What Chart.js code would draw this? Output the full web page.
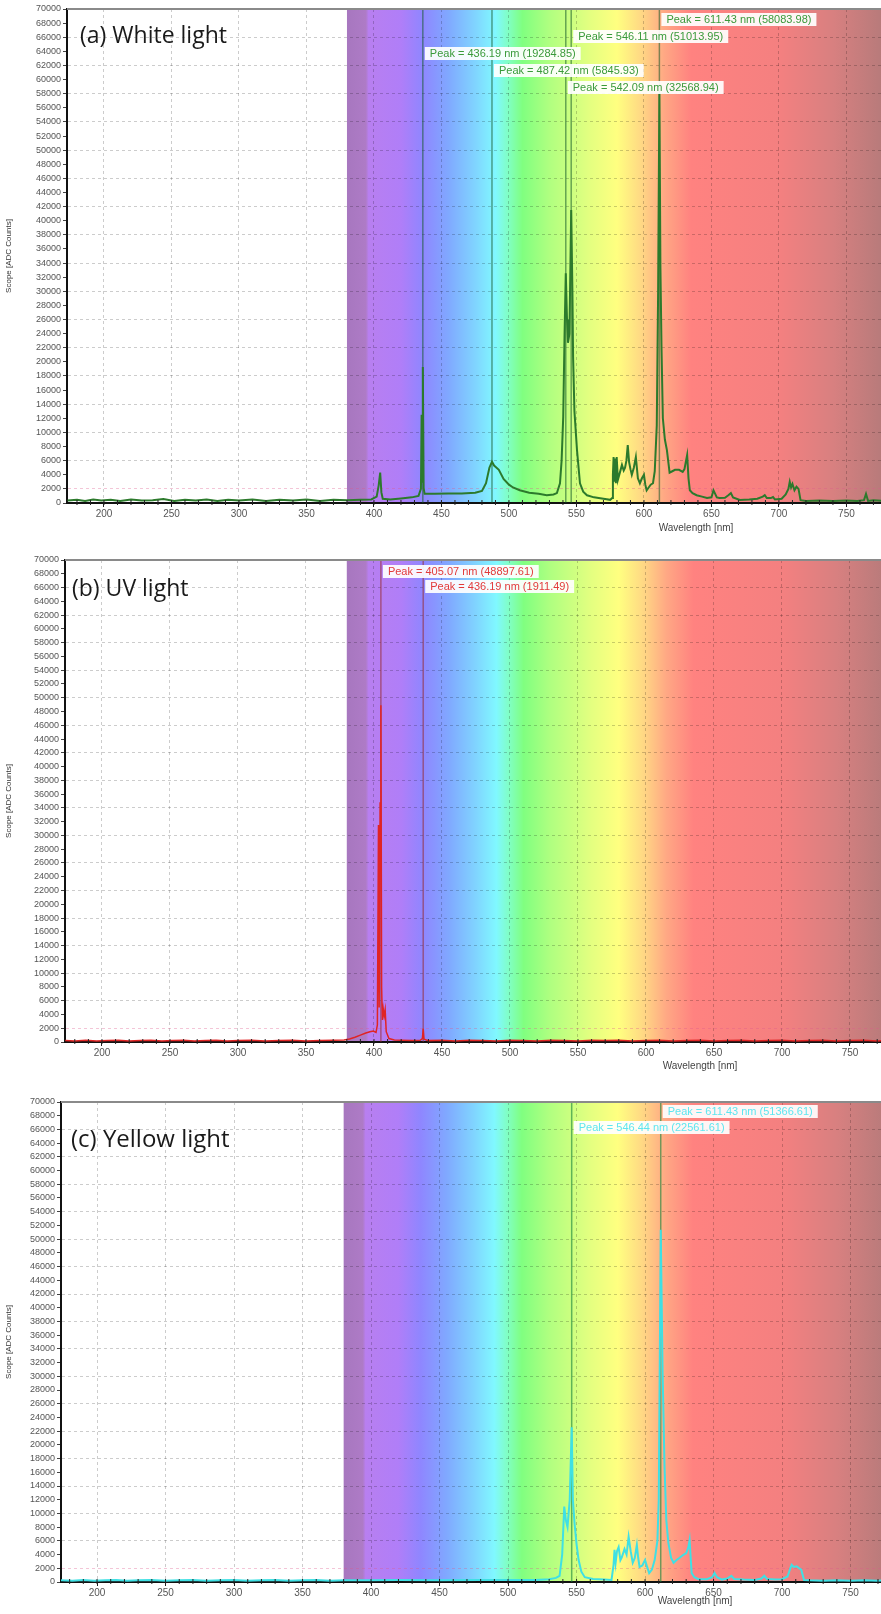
<!DOCTYPE html>
<html lang="en">
<head>
<meta charset="UTF-8">
<title>Emission spectra</title>
<script src="https://cdn.jsdelivr.net/npm/chart.js"></script>
<style>
    body {
        margin: 0;
        background: #fff;
        width: 881px;
        height: 1614px;
        overflow: hidden;
        position: relative;
    }
    .panel {
        position: absolute;
        left: 0;
        width: 881px;
    }
    .tag {
        position: absolute;
        font-family: 'Open Sans', sans-serif;
        font-size: 23px;
        line-height: 28px;
        color: #1a1a1a;
        white-space: nowrap;
    }
</style>
</head>
<body>
<div class="panel" style="top:0px"><canvas id="chartA" width="881" height="540"></canvas></div>
<div class="panel" style="top:548px"><canvas id="chartB" width="881" height="530"></canvas></div>
<div class="panel" style="top:1090px"><canvas id="chartC" width="881" height="524"></canvas></div>
<div class="tag" style="left:80px; top:20px">(a) White light</div>
<div class="tag" style="left:72px; top:573px">(b) UV light</div>
<div class="tag" style="left:71px; top:1124px; font-size:24px">(c) Yellow light</div>

<script>
// wavelength tick labels
const wlTicks = [200, 250, 300, 350, 400, 450, 500, 550, 600, 650, 700, 750];

// (a) white light - wavelength [nm] / counts
const whiteWl = [173, 180, 186, 192, 198, 205, 212, 220, 228, 236, 244, 252, 260, 268, 276, 284, 292, 300, 310, 320,
    330, 340, 350, 360, 370, 380, 390, 398, 402, 403.5, 404.6, 405.5, 406.5, 412, 420, 428, 433, 434.8, 435.3, 435.8,
    436.19, 436.8, 437.5, 445, 455, 465, 475, 480, 483, 485.5, 487.42, 489, 492.5, 496, 500, 503, 508, 515, 522, 528,
    533, 535.5, 537.8, 539, 540.2, 541.2, 542.09, 543, 543.7, 544.8, 546.11, 547, 547.5, 548.5, 550.4, 552.6, 555, 557.8, 563, 570,
    575, 576.5, 577, 577.5, 578, 578.6, 579.2, 579.8, 580.7, 582, 583.7, 585, 586, 587, 588, 589, 590, 591,
    592.5, 594, 595.5, 597, 598.5, 600, 601, 602, 603.5, 605, 606.7, 608, 609.5, 610.5, 611.43, 612.2, 613, 614, 615.5, 617,
    619, 621, 623, 626, 628.7, 630, 631.2, 632, 633, 634, 636, 639, 643, 646.7, 650, 651.5, 652.5, 654, 656, 660,
    662.5, 664.4, 666, 671, 678, 684, 688, 689.5, 691, 694, 695.6, 697, 702, 705, 707, 708, 709, 710, 711.5, 713,
    714.5, 716, 720, 730, 740, 750, 758, 763, 764.5, 766, 770, 776];
const whiteCounts = [350, 450, 300, 500, 350, 450, 300, 500, 350, 400, 550, 300, 450, 350, 500, 300, 450, 350, 500, 300,
    450, 350, 500, 300, 450, 400, 450, 500, 900, 2500, 4300, 1500, 600, 500, 650, 800, 1000, 2000, 12500, 3000,
    19285, 2100, 1300, 1300, 1350, 1350, 1450, 1700, 2800, 5000, 5846, 5300, 4700, 3400, 2600, 2200, 1800, 1450, 1300, 1100,
    1200, 1400, 2800, 6000, 12200, 24000, 32569, 26000, 22700, 24000, 41500, 30000, 20700, 13000, 7500, 2800, 1600, 1100, 800, 600,
    450, 700, 4000, 6500, 3000, 6300, 2800, 6500, 3300, 4200, 5400, 4600, 5000, 6000, 8200, 5800, 4800, 4000,
    5000, 6500, 3500, 2800, 3500, 4000, 2600, 1800, 2200, 2600, 2800, 4500, 11000, 30000, 58084, 33400, 22000, 12000, 9000, 7500,
    4300, 4500, 4700, 4700, 4400, 4800, 6000, 6800, 3500, 1800, 1400, 1100, 900, 700, 800, 1800, 1400, 800, 700, 750,
    1100, 1400, 800, 430, 500, 600, 900, 1100, 700, 700, 850, 500, 600, 1200, 2000, 3000, 2200, 2700, 1800, 2300,
    2000, 400, 300, 350, 300, 350, 300, 400, 1300, 300, 400, 300];
const whitePeaks = [436.19, 487.42, 542.09, 546.11, 611.43];
const whiteLabels = ['Peak = 436.19 nm (19284.85)', 'Peak = 487.42 nm (5845.93)', 'Peak = 542.09 nm (32568.94)',
    'Peak = 546.11 nm (51013.95)', 'Peak = 611.43 nm (58083.98)'];

// (b) UV light
const uvWl = [173, 180, 188, 196, 204, 212, 220, 228, 236, 244, 252, 260, 268, 276, 284, 292, 300, 310, 320, 330,
    340, 350, 360, 370, 378, 382, 386, 390, 394, 397, 399.5, 401.5, 402.5, 403.3, 403.8, 404.5, 405.07, 405.6, 406.2, 406.8,
    407.5, 408.2, 409, 411, 415, 420, 428, 434, 435.6, 436.19, 436.8, 440, 450, 460, 470, 480, 490, 500, 510, 520,
    530, 540, 550, 560, 570, 580, 590, 600, 610, 620, 630, 640, 650, 660, 670, 680, 690, 700, 710, 720,
    730, 740, 750, 760, 770, 776];
const uvCounts = [200, 150, 250, 150, 200, 250, 150, 200, 250, 150, 200, 250, 150, 200, 250, 150, 200, 250, 150, 200,
    250, 150, 200, 250, 300, 450, 700, 1000, 1300, 1500, 1600, 1400, 2500, 31500, 5000, 34700, 48898, 8000, 3200, 4800,
    3800, 4700, 1500, 500, 300, 250, 200, 250, 500, 1911, 400, 200, 250, 150, 250, 200, 150, 250, 200, 150,
    250, 200, 150, 250, 200, 250, 150, 200, 250, 150, 200, 250, 150, 200, 250, 150, 200, 250, 150, 200,
    250, 150, 200, 250, 150, 200];
const uvPeaks = [405.07, 436.19];
const uvLabels = ['Peak = 405.07 nm (48897.61)', 'Peak = 436.19 nm (1911.49)'];

// (c) yellow light
const yellowWl = [173, 182, 190, 198, 206, 214, 222, 230, 240, 250, 260, 270, 280, 290, 300, 310, 320, 330, 340, 350,
    360, 370, 380, 400, 420, 450, 480, 500, 520, 530, 535, 537.6, 539.5, 541, 542.2, 543.4, 545, 546.44, 547.3, 548.5,
    550, 551.5, 553.5, 556, 562, 570, 575.5, 577, 577.7, 578.5, 579.5, 580.7, 582, 583, 585, 586.5, 588, 589.5, 591, 592.5,
    594, 595, 596, 598, 600, 601.5, 603, 605, 607, 609, 610, 611.43, 612.8, 614.2, 615.5, 617, 619, 620.8, 623, 625,
    627.5, 630, 631.5, 632.5, 633.3, 634, 636, 639, 645, 649, 650.7, 652.5, 656, 660, 663, 665, 672, 680, 685, 687,
    689, 695, 700, 704, 706, 707, 708.5, 710.6, 712.5, 714, 716, 720, 730, 740, 750, 760, 770, 776];
const yellowCounts = [250, 200, 300, 200, 250, 300, 200, 250, 300, 200, 250, 300, 200, 250, 300, 200, 250, 300, 200, 250,
    300, 200, 250, 250, 300, 250, 300, 300, 300, 400, 600, 900, 4000, 11000, 9000, 8000, 12000, 22562, 12000, 8600,
    5500, 3200, 1500, 700, 450, 350, 300, 2500, 4700, 2800, 4500, 5100, 3200, 3600, 4800, 4000, 6600, 4500, 2800, 3500,
    5400, 3500, 2200, 2400, 3200, 2200, 1300, 1800, 3200, 6000, 12000, 51367, 30500, 16800, 9000, 5700, 3500, 2800, 3200, 3500,
    3900, 4200, 5000, 6100, 3500, 1300, 700, 400, 400, 700, 1300, 700, 350, 500, 900, 450, 350, 300, 500, 900,
    450, 350, 400, 800, 2000, 2500, 2200, 2300, 2000, 1800, 300, 250, 200, 250, 200, 250, 200, 250];
const yellowPeaks = [546.44, 611.43];
const yellowLabels = ['Peak = 546.44 nm (22561.61)', 'Peak = 611.43 nm (51366.61)'];

// spectrum backdrop colour stops [nm, colour]
const bandStops = [[380, '#a777bf'], [394, '#ae7bc6'], [396, '#b87ff0'], [420, '#b07ef8'], [436, '#8f86ff'],
    [455, '#80a8ff'], [475, '#80d4ff'], [490, '#80f8ff'], [500, '#80ffc0'], [510, '#80ff80'], [530, '#b0ff80'],
    [560, '#e4ff80'], [580, '#ffff80'], [598, '#ffd884'], [615, '#ffa884'], [635, '#ff8280'], [700, '#f48080'],
    [740, '#d88080'], [780, '#b47a7a']];

const spectrumPlugin = {
    id: 'spectrum',
    beforeDraw(chart) {
        const {ctx, chartArea: a, scales: {x}} = chart;
        const x0 = x.getPixelForValue(380);
        const x1 = x.getPixelForValue(780);
        const g = ctx.createLinearGradient(x0, 0, x1, 0);
        bandStops.forEach(s => g.addColorStop((s[0] - 380) / 400, s[1]));
        ctx.save();
        ctx.fillStyle = g;
        ctx.fillRect(x0, a.top, a.right - x0, a.bottom - a.top);
        ctx.restore();
    },
    beforeDatasetsDraw(chart, args, opts) {
        const {ctx, chartArea: a, scales: {x}} = chart;
        ctx.save();
        ctx.strokeStyle = opts.lineColor;
        ctx.lineWidth = 1.5;
        opts.peaks.forEach(p => {
            const px = x.getPixelForValue(p);
            ctx.beginPath();
            ctx.moveTo(px, a.top);
            ctx.lineTo(px, a.bottom);
            ctx.stroke();
        });
        ctx.restore();
    },
    afterDatasetsDraw(chart, args, opts) {
        const {ctx, chartArea: a, scales: {x}} = chart;
        ctx.save();
        // top frame
        ctx.strokeStyle = '#8a8a8a';
        ctx.lineWidth = 2;
        ctx.beginPath();
        ctx.moveTo(a.left, a.top);
        ctx.lineTo(a.right, a.top);
        ctx.stroke();
        // peak boxes
        ctx.font = '11px "Liberation Sans", Arial, sans-serif';
        ctx.textBaseline = 'middle';
        opts.labels.forEach((txt, i) => {
            const px = x.getPixelForValue(opts.peaks[i]) + opts.shift;
            const py = a.top + opts.rowTop + opts.rows[i] * opts.rowGap;
            const w = ctx.measureText(txt).width + 10;
            ctx.fillStyle = 'rgba(255,255,255,0.92)';
            ctx.fillRect(px, py, w, 13);
            ctx.fillStyle = opts.textColor;
            ctx.fillText(txt, px + 5, py + 7);
        });
        // minor ticks every 10 nm
        ctx.strokeStyle = '#222';
        ctx.lineWidth = 1;
        for (let v = Math.ceil(x.min / 10) * 10; v <= x.max; v += 10) {
            const px = x.getPixelForValue(v);
            ctx.beginPath();
            ctx.moveTo(px, a.bottom - 3);
            ctx.lineTo(px, a.bottom + 2);
            ctx.stroke();
        }
        // axis title
        ctx.font = '10px "Liberation Sans", Arial, sans-serif';
        ctx.fillStyle = '#444';
        ctx.textAlign = 'center';
        ctx.textBaseline = 'alphabetic';
        ctx.fillText('Wavelength [nm]', opts.titleX, a.bottom + opts.titleDy);
        ctx.restore();
    }
};

function makePanel(id, wl, counts, peaks, labels, cfg) {
    new Chart(document.getElementById(id), {
        type: 'line',
        data: {
            datasets: [{
                data: wl.map((v, i) => ({x: v, y: counts[i]})),
                borderColor: cfg.color,
                borderWidth: cfg.lineWidth,
                pointRadius: 0,
                tension: 0
            }]
        },
        options: {
            responsive: false,
            animation: false,
            events: [],
            layout: {padding: {top: cfg.padTop, left: 0, right: 0, bottom: 0}},
            plugins: {
                legend: {display: false},
                tooltip: {enabled: false},
                spectrum: {
                    peaks: peaks, labels: labels, rows: cfg.rows, rowTop: cfg.rowTop, rowGap: cfg.rowGap,
                    shift: 2, lineColor: cfg.peakLine, textColor: cfg.textColor,
                    titleX: cfg.titleX, titleDy: cfg.titleDy
                }
            },
            scales: {
                x: {
                    type: 'linear',
                    min: cfg.xMin,
                    max: cfg.xMax,
                    afterFit: s => { s.height = cfg.xAxisH; },
                    afterBuildTicks: s => { s.ticks = wlTicks.map(v => ({value: v})); },
                    ticks: {
                        autoSkip: false, maxRotation: 0,
                        color: '#555', padding: 1,
                        callback: v => String(v),
                        font: {family: '"Liberation Sans", Arial, sans-serif', size: 10}
                    },
                    grid: {color: 'rgba(0,0,0,0.2)', tickLength: 4, tickColor: '#222'},
                    border: {color: '#111', width: 2, dash: [3, 3]}
                },
                y: {
                    min: 0,
                    max: 70000,
                    afterFit: s => { s.width = cfg.yAxisW; },
                    ticks: {
                        stepSize: 2000, autoSkip: false, color: '#555', padding: 2,
                        callback: v => String(v),
                        font: {family: '"Liberation Sans", Arial, sans-serif', size: 9}
                    },
                    grid: {
                        color: c => {
                            const v = c.tick.value;
                            if (v === 2000) return 'rgba(220,90,140,0.35)';
                            return (v - 2000) % 4000 === 0 ? 'rgba(0,0,0,0.2)' : 'rgba(0,0,0,0)';
                        },
                        tickLength: 4,
                        tickColor: '#444'
                    },
                    border: {color: '#111', width: 2, dash: [3, 3]},
                    title: {
                        display: true, text: 'Scope [ADC Counts]', color: '#333', padding: {top: 4, bottom: 0},
                        font: {family: '"Liberation Sans", Arial, sans-serif', size: 8}
                    }
                }
            }
        },
        plugins: [spectrumPlugin]
    });
}

makePanel('chartA', whiteWl, whiteCounts, whitePeaks, whiteLabels, {
    color: '#2c7a2c', lineWidth: 2, peakLine: 'rgba(20,90,40,0.55)', textColor: '#3a9a3a',
    padTop: 9, xAxisH: 37, yAxisW: 67, xMin: 172.6, xMax: 775.6,
    rows: [2, 3, 4, 1, 0], rowTop: 4, rowGap: 17, titleX: 696, titleDy: 28
});
makePanel('chartB', uvWl, uvCounts, uvPeaks, uvLabels, {
    color: '#e02424', lineWidth: 1.5, peakLine: 'rgba(150,40,40,0.55)', textColor: '#e23a3a',
    padTop: 12, xAxisH: 36, yAxisW: 65, xMin: 172.8, xMax: 772.8,
    rows: [0, 1], rowTop: 5, rowGap: 15, titleX: 700, titleDy: 27
});
makePanel('chartC', yellowWl, yellowCounts, yellowPeaks, yellowLabels, {
    color: '#3fe0e4', lineWidth: 2, peakLine: 'rgba(20,130,60,0.6)', textColor: '#5ee6f0',
    padTop: 12, xAxisH: 32, yAxisW: 61, xMin: 173.7, xMax: 772.2,
    rows: [1, 0], rowTop: 3, rowGap: 16, titleX: 695, titleDy: 22
});
</script>
</body>
</html>
